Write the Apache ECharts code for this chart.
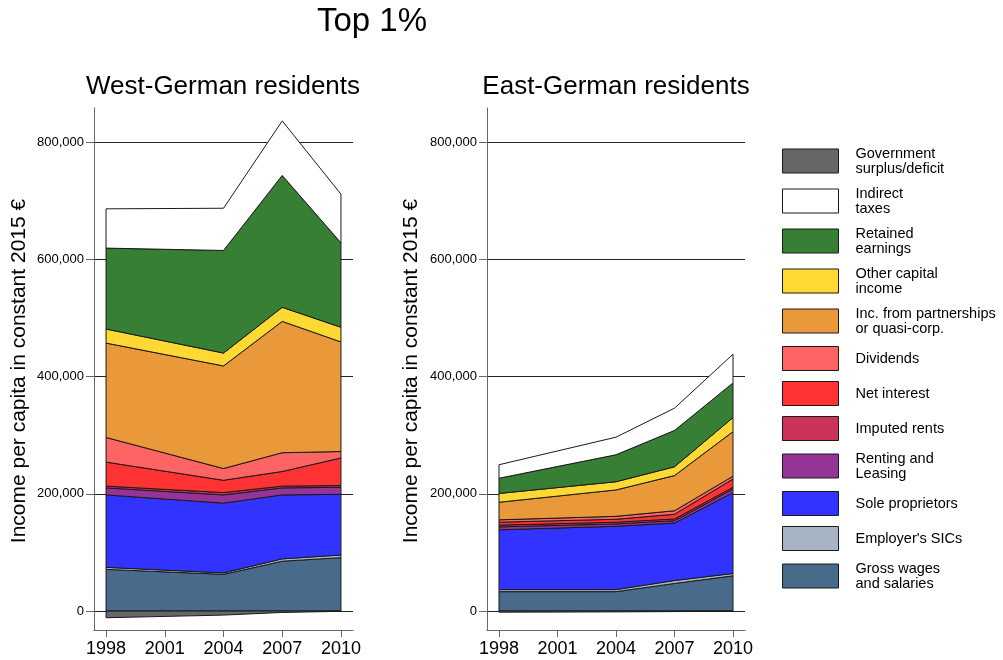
<!DOCTYPE html>
<html>
<head>
<meta charset="utf-8">
<title>Top 1%</title>
<script src="https://cdn.jsdelivr.net/npm/echarts@6/dist/echarts.min.js"></script>
<style>
  html, body { margin: 0; padding: 0; background: #fff; }
  #chart { width: 1003px; height: 660px; }
</style>
</head>
<body>
<div id="chart"></div>
<script>
// Survey years
const years = [1998, 2004, 2007, 2010];
const yearTicks = [1998, 2001, 2004, 2007, 2010];
const valueTicks = [0, 200000, 400000, 600000, 800000];

// Component names, bottom of the stack first
const componentNames = [
  'Gross wages\nand salaries',
  "Employer's SICs",
  'Sole proprietors',
  'Renting and\nLeasing',
  'Imputed rents',
  'Net interest',
  'Dividends',
  'Inc. from partnerships\nor quasi-corp.',
  'Other capital\nincome',
  'Retained\nearnings',
  'Indirect\ntaxes',
  'Government\nsurplus/deficit'
];

// West-German residents, income per capita (constant 2015 €)
const westWages        = [71000, 62500, 85000, 91000];
const westSICs         = [3500, 2500, 4000, 4500];
const westSole         = [123500, 119000, 109000, 103500];
const westRenting      = [12000, 14000, 12000, 12000];
const westImputed      = [3000, 4000, 3000, 3000];
const westInterest     = [41000, 21000, 25000, 47000];
const westDividends    = [42000, 20000, 32000, 11000];
const westPartnerships = [161000, 175000, 224000, 187000];
const westOtherCapital = [24000, 22000, 24000, 25000];
const westRetained     = [138000, 175000, 225000, 144000];
const westIndirect     = [67000, 72000, 93000, 83000];
const westGovernment   = [-11500, -7000, -2500, -500];

// East-German residents, income per capita (constant 2015 €)
const eastWages        = [33000, 33000, 47000, 60000];
const eastSICs         = [3500, 3500, 5000, 4000];
const eastSole         = [102000, 108000, 98000, 138000];
const eastRenting      = [5000, 4000, 4000, 6000];
const eastImputed      = [3000, 3000, 3000, 3000];
const eastInterest     = [5000, 5000, 8000, 14000];
const eastDividends    = [4000, 5000, 6000, 5000];
const eastPartnerships = [30000, 45000, 60000, 76000];
const eastOtherCapital = [15000, 14000, 15000, 24000];
const eastRetained     = [26000, 46000, 62000, 59000];
const eastIndirect     = [23000, 30000, 38000, 49000];
const eastGovernment   = [-2000, -1500, -1000, -500];

const componentColors = [
  '#486a8b', '#a6b4c5', '#3333ff', '#963399', '#cc3358', '#ff3333',
  '#ff6464', '#e9983a', '#fed833', '#367f35', '#ffffff', '#666666'
];

const westComponents = [westWages, westSICs, westSole, westRenting, westImputed, westInterest,
  westDividends, westPartnerships, westOtherCapital, westRetained, westIndirect, westGovernment];
const eastComponents = [eastWages, eastSICs, eastSole, eastRenting, eastImputed, eastInterest,
  eastDividends, eastPartnerships, eastOtherCapital, eastRetained, eastIndirect, eastGovernment];

const FONT = '"Liberation Sans", Arial, Helvetica, sans-serif';
const OUTLINE = '#1a1a1a';

// Stack positives upward from zero and negatives downward from zero
function buildBands(components) {
  const posTop = years.map(() => 0);
  const negTop = years.map(() => 0);
  return components.map(vals => {
    const base = [], top = [];
    vals.forEach((v, i) => {
      if (v >= 0) { base.push(posTop[i]); posTop[i] += v; top.push(posTop[i]); }
      else { base.push(negTop[i]); negTop[i] += v; top.push(negTop[i]); }
    });
    return { base, top };
  });
}

function bandSeries(components, axisIndex) {
  const bands = buildBands(components);
  return bands.map((band, k) => ({
    type: 'custom',
    name: componentNames[k],
    coordinateSystem: 'cartesian2d',
    xAxisIndex: axisIndex,
    yAxisIndex: axisIndex,
    itemStyle: { color: componentColors[k], borderColor: OUTLINE, borderWidth: 1 },
    data: [[years[0], 0]],
    silent: true,
    renderItem: function (params, api) {
      const pts = [];
      for (let i = 0; i < years.length; i++) pts.push(api.coord([years[i], band.top[i]]));
      for (let i = years.length - 1; i >= 0; i--) pts.push(api.coord([years[i], band.base[i]]));
      return {
        type: 'polygon',
        shape: { points: pts },
        style: { fill: componentColors[k], stroke: OUTLINE, lineWidth: 1 }
      };
    }
  }));
}

function fmtThousands(v) {
  return String(Math.round(v)).replace(/\B(?=(\d{3})+(?!\d))/g, ',');
}

function makeXAxis(gridIndex) {
  return {
    type: 'value', gridIndex, min: 1997.385, max: 2010.615,
    axisLine: { show: true, onZero: false, lineStyle: { color: '#666', width: 1 } },
    axisTick: { show: true, length: 7, customValues: yearTicks, lineStyle: { color: '#666' } },
    axisLabel: { customValues: yearTicks, fontSize: 18, color: '#000', fontFamily: FONT, margin: 10,
      formatter: v => String(v) },
    splitLine: { show: false }
  };
}

function makeYAxis(gridIndex) {
  return {
    type: 'value', gridIndex, min: -32400, max: 858000,
    axisLine: { show: true, onZero: false, lineStyle: { color: '#666', width: 1 } },
    axisTick: { show: true, length: 8, customValues: valueTicks, lineStyle: { color: '#666' } },
    axisLabel: { customValues: valueTicks, fontSize: 13, color: '#000', fontFamily: FONT, margin: 10,
      formatter: v => fmtThousands(v) },
    splitLine: { show: true, lineStyle: { color: '#222', width: 1 } }
  };
}

const chart = echarts.init(document.getElementById('chart'), null, { renderer: 'canvas' });

const legendOrder = componentNames.slice().reverse();

chart.setOption({
  animation: false,
  backgroundColor: '#fff',
  textStyle: { fontFamily: FONT },
  grid: [
    { left: 94, top: 108, width: 259, height: 522 },
    { left: 487, top: 108, width: 258, height: 522 }
  ],
  xAxis: [makeXAxis(0), makeXAxis(1)],
  yAxis: [makeYAxis(0), makeYAxis(1)],
  legend: {
    orient: 'vertical',
    left: 782, top: 146,
    padding: 0,
    itemWidth: 56, itemHeight: 24, itemGap: 10,
    icon: 'rect',
    selectedMode: false,
    data: legendOrder,
    itemStyle: { borderColor: OUTLINE, borderWidth: 1 },
    textStyle: { fontSize: 14.5, lineHeight: 15, color: '#000', fontFamily: FONT, padding: [0, 0, 0, 12] }
  },
  graphic: [
    { type: 'text', x: 372, y: 22, style: { text: 'Top 1%', font: '33px ' + FONT, fill: '#000',
      textAlign: 'center', textVerticalAlign: 'middle' } },
    { type: 'text', x: 223, y: 87, style: { text: 'West-German residents', font: '26px ' + FONT, fill: '#000',
      textAlign: 'center', textVerticalAlign: 'middle' } },
    { type: 'text', x: 616, y: 87, style: { text: 'East-German residents', font: '26px ' + FONT, fill: '#000',
      textAlign: 'center', textVerticalAlign: 'middle' } },
    { type: 'text', x: 19, y: 371, rotation: Math.PI / 2, style: { text: 'Income per capita in constant 2015 €',
      font: '21px ' + FONT, fill: '#000', textAlign: 'center', textVerticalAlign: 'middle' } },
    { type: 'text', x: 411, y: 371, rotation: Math.PI / 2, style: { text: 'Income per capita in constant 2015 €',
      font: '21px ' + FONT, fill: '#000', textAlign: 'center', textVerticalAlign: 'middle' } }
  ],
  series: bandSeries(westComponents, 0).concat(bandSeries(eastComponents, 1))
});
</script>
</body>
</html>
